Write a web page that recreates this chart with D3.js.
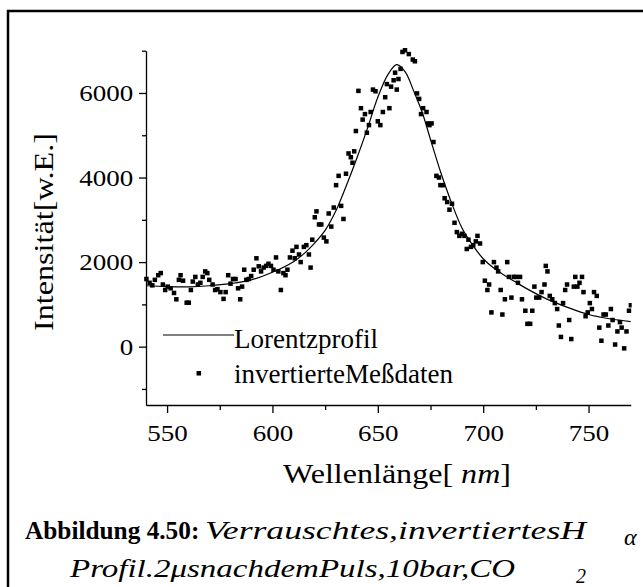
<!DOCTYPE html>
<html>
<head>
<meta charset="utf-8">
<script src="https://cdn.jsdelivr.net/npm/d3@7"></script>
<style>
  html, body { margin: 0; padding: 0; background: #fff; }
  svg { display: block; }
</style>
</head>
<body>
<svg id="chart" width="643" height="587"></svg>
<script>
// Axis ticks
const xTicksMajor = [550, 600, 650, 700, 750];
const xTicksMinor = [575, 625, 675, 725];
const yTicksMajor = [0, 2000, 4000, 6000];
const yTicksMinor = [-1000, 1000, 3000, 5000, 7000];

// Measured (inverted) spectrum: wavelength in nm, intensity in arbitrary units
const wavelength = [
  540.2, 541.7, 543.0, 544.2, 545.8, 547.0, 548.0, 549.1, 550.3, 551.7,
  553.3, 554.4, 555.6, 556.4, 557.6, 559.3, 560.3, 561.3, 562.2, 563.4,
  564.6, 565.8, 566.9, 568.1, 569.1, 570.0, 571.6, 572.8, 573.9, 575.3,
  576.8, 577.8, 579.0, 580.1, 581.3, 582.5, 583.7, 584.7, 585.6, 586.6,
  587.6, 588.7, 589.9, 591.1, 592.4, 593.5, 594.6, 595.8, 597.0, 598.1,
  599.3, 600.5, 601.7, 602.8, 604.0, 605.2, 606.2, 607.1, 608.3, 609.5,
  610.6, 611.4, 612.6, 613.4, 614.9, 616.1, 617.3, 618.1, 618.9, 620.1,
  620.9, 622.1, 623.2, 624.4, 625.6, 626.7, 627.9, 629.1, 630.2, 631.4,
  632.6, 633.7, 634.9, 636.1, 637.2, 638.0, 638.8, 639.6, 640.8, 642.0,
  642.8, 643.9, 644.8, 645.8, 646.6, 647.7, 648.9, 650.0, 651.2, 652.4,
  653.5, 654.3, 655.5, 656.3, 657.5, 658.2, 659.0, 659.8, 660.8, 661.7,
  662.9, 664.7, 666.6, 667.6, 668.6, 669.6, 670.5, 671.5, 673.1, 673.9,
  674.5, 675.5, 676.4, 677.8, 679.0, 679.7, 680.9, 681.7, 682.9, 684.0,
  685.2, 686.4, 687.5, 688.7, 689.9, 691.1, 692.2, 693.0, 694.2, 695.3,
  696.5, 697.3, 698.5, 699.8, 700.8, 702.0, 702.8, 703.9, 705.1, 706.3,
  707.1, 708.3, 709.1, 710.3, 711.4, 712.2, 713.4, 714.5, 715.5, 716.5,
  717.5, 718.4, 720.0, 721.0, 722.3, 723.3, 724.3, 725.2, 726.6, 727.7,
  729.1, 729.7, 730.5, 731.6, 732.8, 734.0, 735.1, 735.9, 736.9, 737.9,
  738.9, 739.8, 740.8, 741.8, 743.0, 743.7, 744.7, 745.7, 746.9, 747.6,
  748.6, 749.6, 750.6, 751.6, 752.6, 753.9, 755.1, 756.1, 757.1, 758.2,
  759.4, 760.6, 761.4, 762.6, 763.7, 764.9, 765.7, 766.9, 768.0, 769.2,
  770.1
];
const intensity = [
  1600, 1510, 1450, 1580, 1690, 1740, 1470, 1340, 1420, 1380,
  1270, 1120, 1580, 1690, 1560, 1040, 1040, 1340, 1540, 1650,
  1470, 1510, 1650, 1780, 1740, 1580, 1470, 1340, 1360, 1290,
  1130, 1290, 1690, 1490, 1600, 1600, 1380, 1120, 1420, 1820,
  1580, 1600, 1670, 1820, 2090, 1900, 1780, 1870, 1910, 1960,
  1910, 1820, 2110, 1780, 1340, 1740, 1690, 1820, 2110, 2270,
  2090, 2360, 2180, 2000, 2360, 2400, 2180, 1870, 2530, 3060,
  3200, 2890, 2890, 2580, 2490, 3150, 2840, 3290, 3820, 4040,
  3330, 3020, 4090, 4570, 4480, 4350, 4620, 5100, 6050, 5640,
  5370, 5500, 5060, 5240, 5550, 6080, 6040, 5330, 5240, 5550,
  5900, 6210, 5640, 6150, 6300, 6480, 6080, 6330, 6570, 6970,
  7010, 6920, 6790, 6750, 5990, 5860, 5500, 5640, 5550, 5280,
  5240, 5280, 4840, 4040, 4000, 3820, 3820, 3510, 3420, 3240,
  3380, 2930, 2710, 2620, 2670, 2620, 2310, 2530, 2360, 2400,
  2490, 2620, 2440, 2000, 1560, 1340, 1470, 810, 2000, 1870,
  1780, 1340, 760, 1120, 2000, 1650, 1160, 1650, 1650, 1510,
  1650, 1120, 850, 540, 540, 850, 1420, 1160, 1160, 1290,
  1470, 1910, 1780, 1200, 1120, 1030, 890, 500, 230, 1030,
  1340, 1470, 630, 180, 1420, 1650, 1420, 1510, 1650, 1290,
  720, 810, 1030, 890, 1290, 1200, 450, 140, 760, 760,
  500, 890, 630, 50, 360, 580, 450, -40, 360, 850,
  980
];

// Lorentz profile fitted to the spectrum (sampled)
const fitWavelength = [
  540, 550, 560, 570, 580, 590, 600, 610, 615, 620,
  625, 630, 635, 640, 645, 650, 655, 659, 663, 667,
  671, 675, 680, 685, 690, 695, 700, 705, 710, 715,
  720, 730, 740, 750, 760, 770
];
const fitIntensity = [
  1440, 1420, 1415, 1440, 1490, 1580, 1760, 2010, 2200, 2450,
  2750, 3200, 3800, 4450, 5150, 5900, 6450, 6670, 6500, 6050,
  5550, 4900, 4100, 3400, 2800, 2400, 2080, 1860, 1690, 1540,
  1390, 1130, 930, 760, 660, 590
];

const legendLabels = ["Lorentzprofil", "invertierteMeßdaten"];

const FONT = '"Liberation Serif", "Times New Roman", Times, serif';
const svg = d3.select("#chart");

// Figure frame (left and top edges)
svg.append("path")
  .attr("d", "M8,587 V11 H643")
  .attr("fill", "none")
  .attr("stroke", "#000")
  .attr("stroke-width", 2.5);

const plot = { left: 146, right: 630.7, top: 50.7, bottom: 405 };

const x = d3.scaleLinear().domain([540, 770]).range([plot.left, plot.right]);
const y = d3.scaleLinear().domain([-1380, 7000]).range([plot.bottom, plot.top]);

svg.append("clipPath").attr("id", "plotClip")
  .append("rect")
  .attr("x", plot.left - 3).attr("y", plot.top - 3)
  .attr("width", plot.right - plot.left + 4)
  .attr("height", plot.bottom - plot.top + 3);

// Tick labels are set slightly wide
const STRETCH = 1.15;

// X axis
const gx = svg.append("g").attr("transform", `translate(0,${plot.bottom})`);
gx.call(d3.axisBottom(x).tickValues(xTicksMajor).tickSize(8).tickSizeOuter(0).tickPadding(11)
  .tickFormat(d3.format("d")));
gx.append("g").call(d3.axisBottom(x).tickValues(xTicksMinor).tickSize(5).tickSizeOuter(0).tickFormat(""))
  .select(".domain").remove();
gx.selectAll("text")
  .style("font-family", FONT)
  .style("font-size", "23.5px")
  .attr("fill", "#000")
  .attr("transform", `scale(${STRETCH},1)`);

// Y axis
const gy = svg.append("g").attr("transform", `translate(${plot.left},0)`);
gy.call(d3.axisLeft(y).tickValues(yTicksMajor).tickSize(7).tickSizeOuter(0).tickPadding(4)
  .tickFormat(d3.format("d")));
gy.append("g").call(d3.axisLeft(y).tickValues(yTicksMinor).tickSize(4).tickSizeOuter(0).tickFormat(""))
  .select(".domain").remove();
gy.selectAll("text")
  .style("font-family", FONT)
  .style("font-size", "23.5px")
  .attr("fill", "#000")
  .attr("transform", `scale(${STRETCH},1)`);

svg.selectAll(".domain, .tick line")
  .attr("stroke", "#000")
  .attr("stroke-width", 1.3);

// Data
const plotArea = svg.append("g").attr("clip-path", "url(#plotClip)");

const fitData = fitWavelength.map((w, i) => [w, fitIntensity[i]]);
plotArea.append("path")
  .datum(fitData)
  .attr("fill", "none")
  .attr("stroke", "#000")
  .attr("stroke-width", 1.2)
  .attr("d", d3.line().x(d => x(d[0])).y(d => y(d[1])).curve(d3.curveCatmullRom.alpha(0.5)));

const MS = 4.5;
const pts = wavelength.map((w, i) => [w, intensity[i]]);
plotArea.selectAll("rect.pt")
  .data(pts)
  .join("rect")
  .attr("class", "pt")
  .attr("x", d => x(d[0]) - MS / 2)
  .attr("y", d => y(d[1]) - MS / 2)
  .attr("width", MS)
  .attr("height", MS)
  .attr("fill", "#000");

// Helper for text with the figure font
function addText(parent, size) {
  return parent.append("text")
    .style("font-family", FONT)
    .style("font-size", size + "px")
    .attr("fill", "#000");
}

// Axis titles
addText(svg, 28)
  .attr("transform", "translate(53,232) rotate(-90)")
  .attr("text-anchor", "middle")
  .attr("textLength", 198)
  .attr("lengthAdjust", "spacingAndGlyphs")
  .text("Intensität[w.E.]");

const xt = addText(svg, 26.5)
  .attr("x", 397).attr("y", 483)
  .attr("text-anchor", "middle")
  .attr("textLength", 228)
  .attr("lengthAdjust", "spacingAndGlyphs");
xt.append("tspan").text("Wellenlänge[ ");
xt.append("tspan").style("font-style", "italic").text("nm");
xt.append("tspan").text("]");

// Legend
const legend = svg.append("g");
legend.append("line")
  .attr("x1", 163).attr("x2", 234).attr("y1", 335).attr("y2", 335)
  .attr("stroke", "#000").attr("stroke-width", 1.2);
legend.append("rect")
  .attr("x", 198.8 - MS / 2).attr("y", 373.3 - MS / 2)
  .attr("width", MS).attr("height", MS).attr("fill", "#000");
legendLabels.forEach((label, i) => {
  addText(legend, 27)
    .attr("x", 234)
    .attr("y", 348.3 + i * 34.2)
    .text(label);
});

// Caption
addText(svg, 25.3)
  .attr("x", 25).attr("y", 539)
  .style("font-weight", "bold")
  .text("Abbildung 4.50:");
addText(svg, 26)
  .attr("x", 205).attr("y", 539)
  .style("font-style", "italic")
  .attr("textLength", 381)
  .attr("lengthAdjust", "spacingAndGlyphs")
  .text("Verrauschtes,invertiertesH");
addText(svg, 24)
  .attr("x", 624).attr("y", 545)
  .style("font-style", "italic")
  .text("α");
addText(svg, 26)
  .attr("x", 70).attr("y", 577)
  .style("font-style", "italic")
  .attr("textLength", 445)
  .attr("lengthAdjust", "spacingAndGlyphs")
  .text("Profil.2μsnachdemPuls,10bar,CO");
addText(svg, 20)
  .attr("x", 576).attr("y", 583)
  .style("font-style", "italic")
  .text("2");
</script>
</body>
</html>
